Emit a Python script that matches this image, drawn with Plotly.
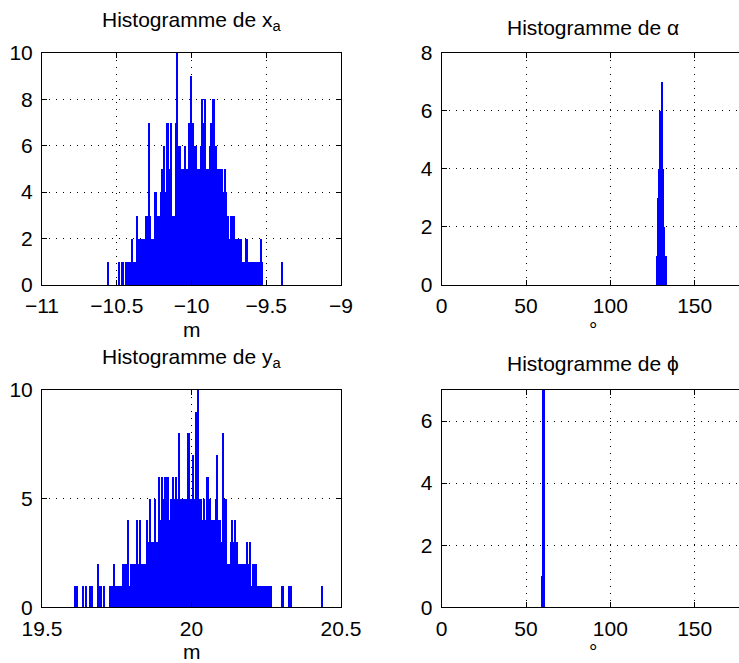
import plotly.graph_objects as go

# ---------------- data ----------------
xa_start = -10.56
xa_width = 0.01
xa_counts = [1, 0, 0, 0, 0, 0, 0, 1, 0, 1,
             1, 0, 1, 1, 1, 1, 2, 1, 1, 3,
             2, 2, 2, 2, 2, 3, 3, 7, 3, 2,
             2, 4, 4, 3, 3, 4, 5, 6, 4, 7,
             7, 5, 7, 3, 3, 7, 10, 6, 6, 5,
             5, 6, 5, 5, 7, 9, 7, 7, 6, 6,
             5, 5, 6, 8, 7, 8, 5, 5, 6, 7,
             8, 8, 6, 5, 5, 5, 5, 4, 5, 4,
             3, 2, 3, 3, 3, 2, 2, 2, 2, 2,
             1, 1, 2, 2, 1, 1, 1, 1, 1, 1,
             1, 1, 2, 1, 0, 0, 0, 0, 0, 0,
             0, 0, 0, 0, 0, 0, 1]

ya_start = 19.61
ya_width = 0.005
ya_counts = [1, 1, 0, 0, 0, 1, 0, 1, 0, 0,
             1, 1, 0, 0, 0, 2, 1, 1, 0, 1,
             0, 0, 0, 1, 1, 1, 2, 1, 1, 1,
             1, 1, 2, 2, 2, 4, 1, 2, 2, 2,
             2, 4, 2, 4, 2, 2, 2, 2, 4, 3,
             5, 3, 3, 5, 3, 3, 6, 4, 6, 5,
             6, 6, 6, 4, 5, 6, 5, 6, 5, 8,
             5, 5, 5, 5, 5, 8, 8, 5, 5, 7,
             5, 9, 10, 5, 5, 4, 5, 4, 6, 6,
             5, 4, 4, 4, 5, 7, 4, 4, 3, 8,
             5, 5, 2, 2, 3, 4, 3, 4, 3, 2,
             2, 2, 2, 2, 2, 3, 2, 3, 1, 2,
             2, 2, 1, 1, 1, 1, 1, 1, 1, 1,
             1, 1, 0, 0, 0, 0, 0, 0, 1, 1,
             0, 0, 0, 1, 1, 0, 0, 0, 0, 0,
             0, 0, 0, 0, 0, 0, 0, 0, 0, 0,
             0, 0, 0, 0, 0, 1]

alpha_start = 127.0
alpha_width = 0.25
alpha_counts = [1, 1, 1, 2, 3, 4, 4, 6, 5, 6, 6, 4,
                7, 6, 7, 5, 4, 2, 2, 2, 1, 1, 1, 1]

phi_start = 59.25
phi_width = 0.25
phi_counts = [1, 1, 9, 15, 11, 2]

xa_ticks = [-11, -10.5, -10, -9.5, -9]
xa_ticklabels = ["\u221211", "\u221210.5", "\u221210", "\u22129.5", "\u22129"]
ya_ticks = [19.5, 20, 20.5]
deg_ticks = [0, 50, 100, 150]

titles = ["Histogramme de x<sub>a</sub>", "Histogramme de \u03b1",
          "Histogramme de y<sub>a</sub>", "Histogramme de \u03d5"]
xlabels = ["m", "\u00b0", "m", "\u00b0"]


def centers(start, width, counts):
    return [start + width * (i + 0.5) for i in range(len(counts))]


# ---------------- figure ----------------
W, H = 739, 663
FONT = "Liberation Sans, Arial, Helvetica, sans-serif"
FS = 21
BLUE = "#0000ff"

fig = go.Figure()
series = [
    (xa_start, xa_width, xa_counts, "x", "y"),
    (alpha_start, alpha_width, alpha_counts, "x2", "y2"),
    (ya_start, ya_width, ya_counts, "x3", "y3"),
    (phi_start, phi_width, phi_counts, "x4", "y4"),
]
for start, width, counts, xa, ya in series:
    fig.add_trace(go.Bar(
        x=centers(start, width, counts), y=counts, width=width,
        marker=dict(color=BLUE, line=dict(width=0)),
        xaxis=xa, yaxis=ya, showlegend=False, hoverinfo="skip",
    ))

# pixel boxes of the four axes (left, right, top, bottom)
boxes = [(42, 341, 52.7, 285), (441.7, 739, 52.7, 285),
         (42, 341, 390, 607.3), (441.7, 739, 390, 607.3)]
title_shift = [17, 12, 17, 13]


def dom(b):
    l, r, t, bt = b
    return [l / W, min(r / W, 1.0)], [(H - bt) / H, (H - t) / H]


common = dict(
    showline=True, linecolor="black", linewidth=1,
    ticks="inside", ticklen=5, tickcolor="black", tickwidth=1,
    showgrid=True, gridcolor="black", gridwidth=1, griddash="1px,6px",
    zeroline=False, automargin=False,
    tickfont=dict(family=FONT, size=FS, color="black"),
)

deg_right = (739 - 441.7) / (694.7 - 441.7) * 150

axes_cfg = [
    (dict(range=[-11, -9], tickvals=xa_ticks, ticktext=xa_ticklabels, mirror="ticks"),
     dict(range=[0, 10], tickvals=[0, 2, 4, 6, 8, 10], mirror="ticks")),
    (dict(range=[0, deg_right], tickvals=deg_ticks, mirror="ticks"),
     dict(range=[0, 8], tickvals=[0, 2, 4, 6, 8], mirror=False)),
    (dict(range=[19.5, 20.5], tickvals=ya_ticks, ticktext=["19.5", "20", "20.5"], mirror="ticks"),
     dict(range=[0, 10], tickvals=[0, 5, 10], mirror="ticks")),
    (dict(range=[0, deg_right], tickvals=deg_ticks, mirror="ticks"),
     dict(range=[0, 7], tickvals=[0, 2, 4, 6], mirror=False)),
]

layout_axes = {}
for k, (b, (xc, yc)) in enumerate(zip(boxes, axes_cfg), start=1):
    dx, dy = dom(b)
    sx = "" if k == 1 else str(k)
    xcfg = dict(common); xcfg.update(xc); xcfg.update(domain=dx, anchor="y" + sx,
                                                     ticklabelstandoff=2)
    ycfg = dict(common); ycfg.update(yc); ycfg.update(domain=dy, anchor="x" + sx,
                                                     ticklabelstandoff=4)
    layout_axes["xaxis" + sx] = xcfg
    layout_axes["yaxis" + sx] = ycfg

annotations = []
for b, t, xl, ts in zip(boxes, titles, xlabels, title_shift):
    l, r, top, bt = b
    cx = ((l + (r if r < 739 else 745)) / 2) / W
    annotations.append(dict(
        text=t, x=cx, y=(H - top) / H, xref="paper", yref="paper",
        xanchor="center", yanchor="bottom", yshift=ts, showarrow=False,
        font=dict(family=FONT, size=FS, color="black"),
    ))
    annotations.append(dict(
        text=xl, x=cx, y=(H - bt) / H, xref="paper", yref="paper",
        xanchor="center", yanchor="middle", yshift=-44, showarrow=False,
        font=dict(family=FONT, size=FS, color="black"),
    ))

fig.update_layout(
    width=W, height=H,
    margin=dict(l=0, r=0, t=0, b=0),
    paper_bgcolor="white", plot_bgcolor="white",
    bargap=0, barmode="overlay",
    font=dict(family=FONT, size=FS, color="black"),
    annotations=annotations,
    **layout_axes,
)

fig.write_html(
    "out.html",
    config={"displayModeBar": False},
    post_script="document.body.style.margin='0px';document.body.style.overflow='hidden';",
)
